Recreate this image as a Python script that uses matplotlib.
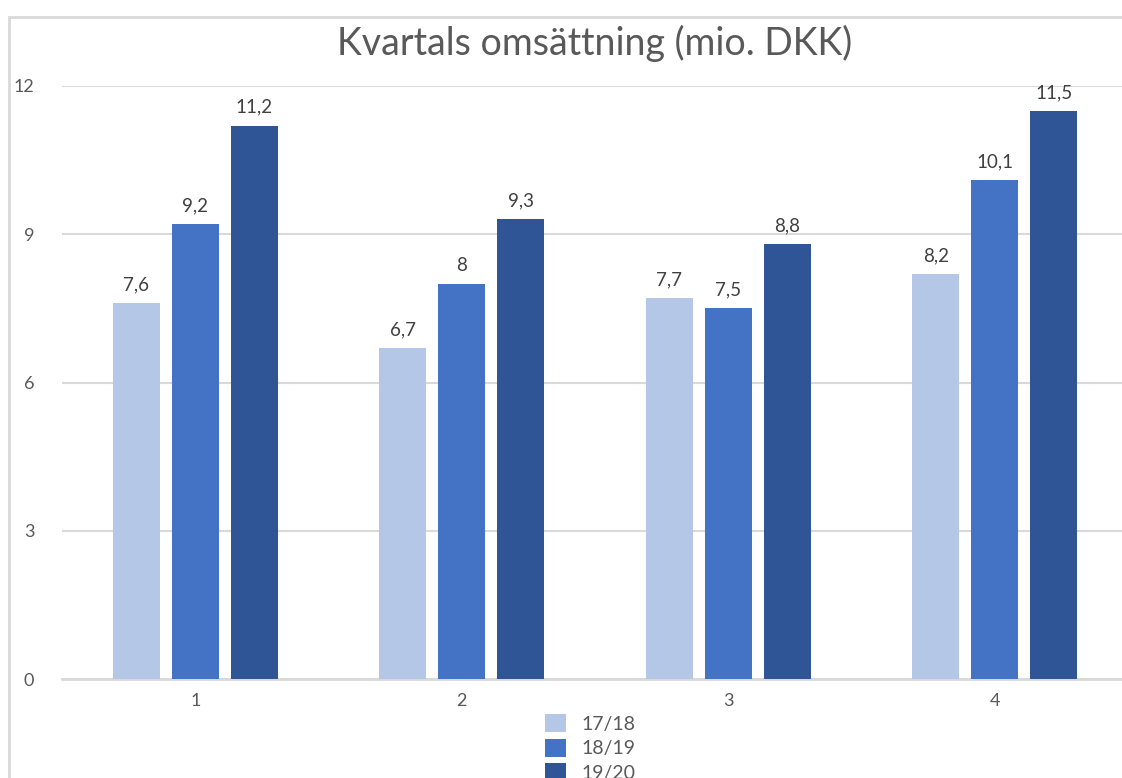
import numpy as np
import matplotlib
matplotlib.use("Agg")
import matplotlib.pyplot as plt
from matplotlib.patches import Rectangle

# data
quarters = ["1", "2", "3", "4"]
seasons = ["17/18", "18/19", "19/20"]
v_1718 = [7.6, 6.7, 7.7, 8.2]
v_1819 = [9.2, 8.0, 7.5, 10.1]
v_1920 = [11.2, 9.3, 8.8, 11.5]
yticks = [0, 3, 6, 9, 12]

colors = ["#B4C7E7", "#4472C4", "#2F5597"]
font = "Lato"
W, H = 1122, 778

fig = plt.figure(figsize=(W / 100, H / 100), dpi=100)
plt.rcParams["font.family"] = [font, "DejaVu Sans"]

# chart frame (cut off at right and bottom like the screenshot)
fig.patches.append(Rectangle((9 / W, -0.1), 1.2, 1 - 17 / H + 0.1,
                             transform=fig.transFigure, fill=False,
                             edgecolor="#D9D9D9", linewidth=2))

ax = fig.add_axes([62 / W, 99 / H, 1066 / W, 593 / H])
ax.set_facecolor("none")

x = np.arange(len(quarters))
step = 0.221
width = 0.176

def label(v):
    s = ("%.1f" % v).replace(".", ",")
    if s.endswith(",0"):
        s = s[:-2]
    return s

for i, vals in enumerate([v_1718, v_1819, v_1920]):
    bars = ax.bar(x + (i - 1) * step, vals, width, color=colors[i],
                  label=seasons[i], zorder=3)
    for b, v in zip(bars, vals):
        ax.annotate(label(v), (b.get_x() + b.get_width() / 2, v),
                    xytext=(0, 7), textcoords="offset points",
                    ha="center", va="bottom", fontsize=13.5, color="#404040")

ax.set_xlim(-0.5, 3.5)
ax.set_ylim(0, 12)
ax.set_yticks(yticks)
ax.set_xticks(x)
ax.set_xticklabels(quarters)
ax.tick_params(axis="both", length=0, labelsize=13, labelcolor="#595959")
ax.tick_params(axis="y", pad=20)
ax.tick_params(axis="x", pad=10)
ax.grid(axis="y", color="#D9D9D9", linewidth=1.5, zorder=0)
for s in ["top", "right", "left"]:
    ax.spines[s].set_visible(False)
ax.spines["bottom"].set_color("#D9D9D9")
ax.spines["bottom"].set_linewidth(2)

ax.set_title("Kvartals omsättning (mio. DKK)", fontsize=27, color="#595959", pad=22)

leg = fig.legend(loc="upper left", bbox_to_anchor=(535 / W, 1 - 704 / H),
                 frameon=False, fontsize=14, labelcolor="#595959",
                 handlelength=1.1, handleheight=1.1, labelspacing=0.3,
                 handletextpad=0.8, borderpad=0)

fig.savefig("out.png", dpi=100)
